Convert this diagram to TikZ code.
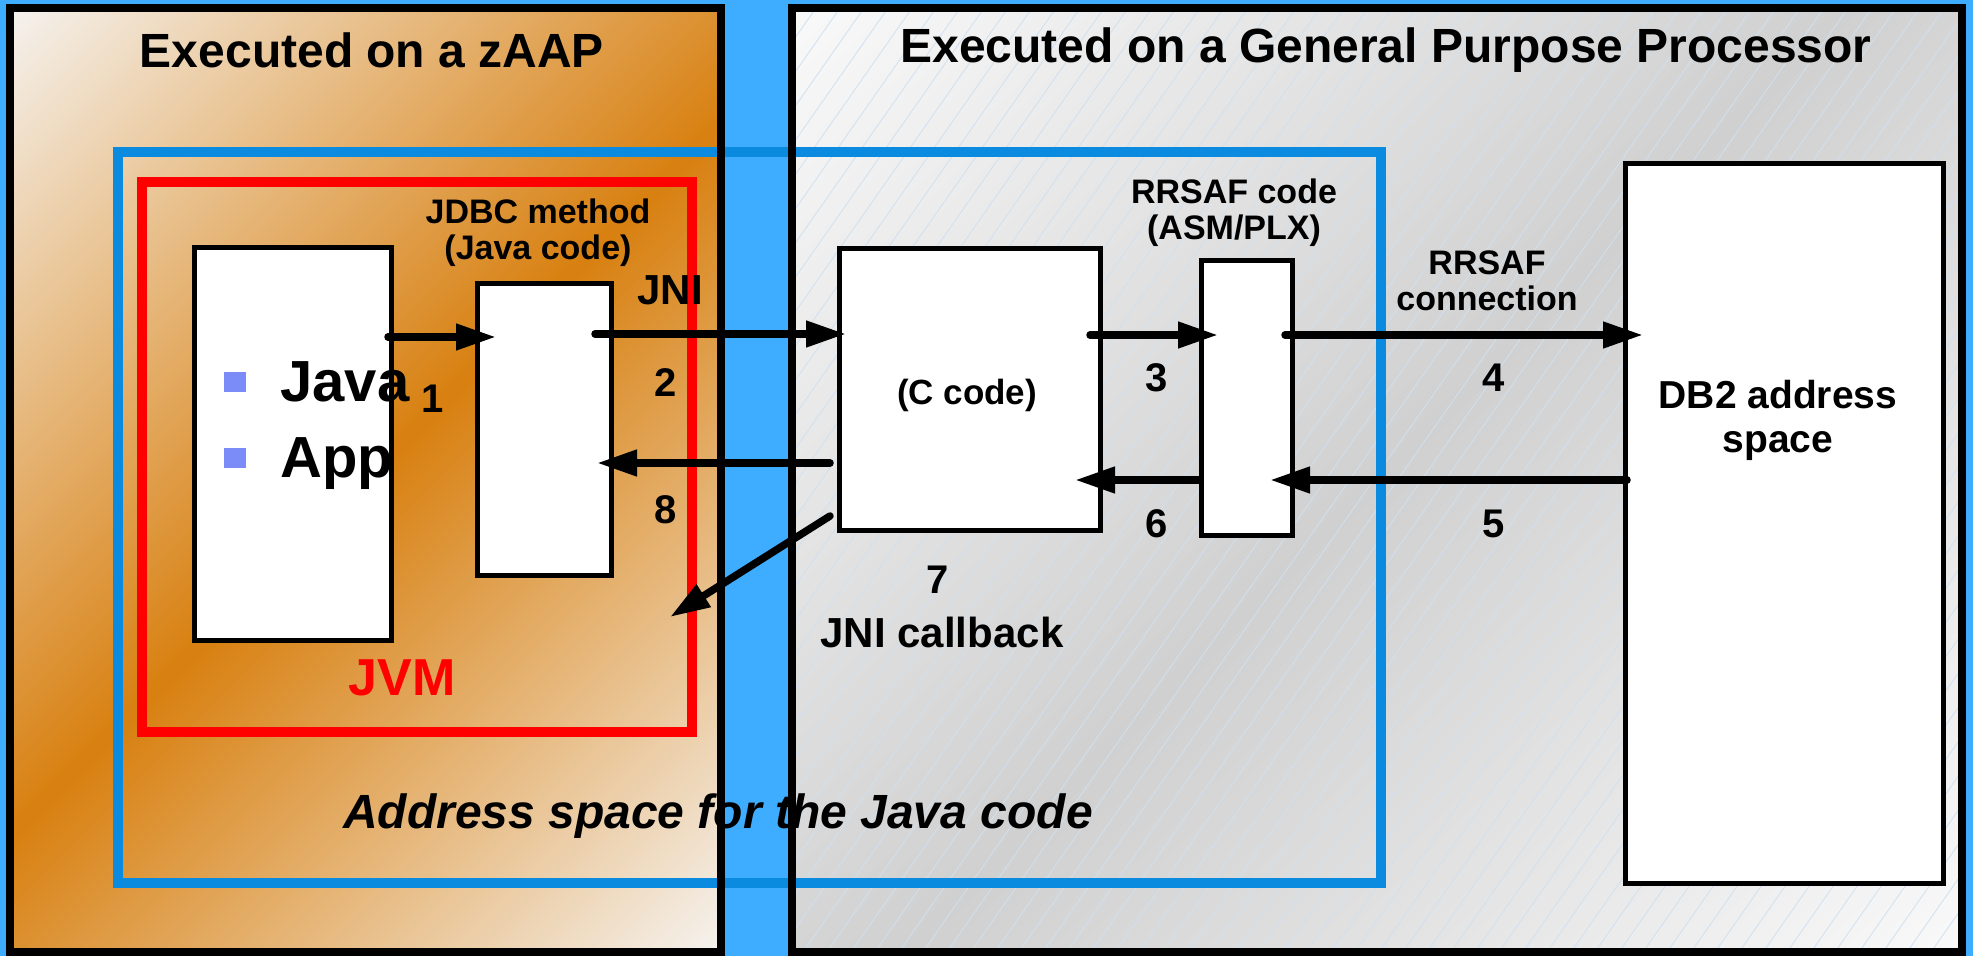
\documentclass[tikz,border=0pt]{standalone}
\usepackage{fontspec}
\setmainfont{Liberation Sans}
\usetikzlibrary{arrows.meta}
\definecolor{bgblue}{RGB}{62,173,255}
\definecolor{asblue}{RGB}{10,139,224}
\definecolor{orng}{RGB}{216,128,16}
\definecolor{cream}{RGB}{245,242,238}
\definecolor{lgray}{RGB}{249,249,249}
\definecolor{mgray}{RGB}{208,208,208}
\definecolor{hatchc}{RGB}{206,225,242}
\definecolor{bulletc}{RGB}{123,139,247}
\begin{document}
\begin{tikzpicture}[x=0.5pt,y=-0.5pt,
  panel/.style={inner sep=0pt,outer sep=0pt},
  panelborder/.style={draw=black,line width=3.8pt},
  wbox/.style={draw=black,fill=white,line width=2.5pt,inner sep=0pt,outer sep=0pt},
  frame/.style={inner sep=0pt,outer sep=0pt,line width=5pt},
  title/.style={font=\bfseries\fontsize{24}{28}\selectfont,anchor=base,inner sep=0pt},
  lbl/.style={font=\bfseries\fontsize{17}{18}\selectfont,align=center,anchor=base,inner sep=0pt},
  big/.style={font=\bfseries\fontsize{21}{24}\selectfont,align=center,anchor=base,inner sep=0pt},
  num/.style={font=\bfseries\fontsize{20}{22}\selectfont,anchor=base,inner sep=0pt},
  bul/.style={fill=bulletc,minimum width=11pt,minimum height=10pt,inner sep=0pt},
  arr/.style={line width=3.75pt,line cap=round,-{Triangle[length=20pt,width=12.5pt]}}]
\useasboundingbox (0,0) rectangle (1973,956);
\fill[bgblue] (0,0) rectangle (1973,956);
% panels
\node[panel,minimum width=355.5pt,minimum height=472pt] (zaap) at (365.5,480) {};
\node[panel,minimum width=585pt,minimum height=472pt] (gpp) at (1377,480) {};
\begin{scope}
  \clip (zaap.south west) rectangle (zaap.north east);
  \shade[top color=cream,bottom color=cream,middle color=orng,shading angle=45]
    (-219.5,-105) rectangle (950.5,1065);
\end{scope}
\begin{scope}
  \clip (gpp.south west) rectangle (gpp.north east);
  \shade[top color=lgray,bottom color=lgray,middle color=mgray,shading angle=45]
    (630,-267) rectangle (2124,1227);
  \foreach \i [evaluate=\i as \x using 131+\i*24] in {0,...,80}
    \draw[hatchc,line width=0.4pt] (\x,952) -- ++(661,-944);
\end{scope}
% address space and JVM frames
\node[frame,draw=asblue,minimum width=631.5pt,minimum height=365.5pt] (as) at (749.5,517.5) {};
\node[frame,draw=red,minimum width=275pt,minimum height=275pt] (jvm) at (417,457) {};
\draw[panelborder] (zaap.south west) rectangle (zaap.north east);
\draw[panelborder] (gpp.south west) rectangle (gpp.north east);
% titles
\node[title] (t1) at (372,68) {Executed on a zAAP};
\node[title] (t2) at (1386,63) {Executed on a General Purpose Processor};
% white boxes
\node[wbox,minimum width=98.5pt,minimum height=196pt] (java) at (292.5,444) {};
\node[wbox,minimum width=67pt,minimum height=145.5pt] (jdbc) at (544,429.5) {};
\node[wbox,minimum width=130.5pt,minimum height=140.5pt] (ccode) at (969.5,389.5) {};
\node[wbox,minimum width=45.5pt,minimum height=137pt] (rrsaf) at (1246.5,398) {};
\node[wbox,minimum width=159pt,minimum height=359.5pt] (db2) at (1784,523.5) {};
% texts
\node[bul] (b1) at (235,382) {};
\node[bul] (b2) at (235,458) {};
\node[font=\bfseries\fontsize{29}{30}\selectfont,anchor=base west,inner sep=0pt] (javat) at (280,402) {Java};
\node[font=\bfseries\fontsize{29}{30}\selectfont,anchor=base west,inner sep=0pt] (appt) at (280,478) {App};
\node[lbl] (jdbct) at (538,260) {JDBC method\\(Java code)};
\node[big] (jni) at (670,305) {JNI};
\node[lbl,font=\bfseries\fontsize{17.5}{18}\selectfont] (ccodet) at (967,405) {(C code)};
\node[lbl] (rrsaft) at (1234,240) {RRSAF code\\(ASM/PLX)};
\node[lbl] (conn) at (1487,311) {RRSAF\\connection};
\node[lbl,font=\bfseries\fontsize{19.5}{22}\selectfont] (db2t) at (1778,452) {DB2 address\\space};
\node[big] (cb) at (942,647) {JNI callback};
\node[font=\bfseries\fontsize{26}{28}\selectfont,text=red,anchor=base,inner sep=0pt] (jvmt) at (402,695) {JVM};
\node[font=\bfseries\itshape\fontsize{24}{28}\selectfont,anchor=base,inner sep=0pt] (ast) at (718,828) {Address space for the Java code};
\node[num] (n1) at (433,413) {1};
\node[num] (n2) at (666,397) {2};
\node[num] (n3) at (1157,392) {3};
\node[num] (n4) at (1494,392) {4};
\node[num] (n5) at (1494,537) {5};
\node[num] (n6) at (1157,537) {6};
\node[num] (n7) at (938,593) {7};
\node[num] (n8) at (666,523) {8};
% arrow ends
\coordinate (a1s) at (388,337); \coordinate (a1e) at (496,337);
\coordinate (a2s) at (595,334); \coordinate (a2e) at (846,334);
\coordinate (a3s) at (1090,335); \coordinate (a3e) at (1218,335);
\coordinate (a4s) at (1285,335); \coordinate (a4e) at (1643,335);
\coordinate (a5s) at (1627,480); \coordinate (a5e) at (1270,480);
\coordinate (a6s) at (1200,480); \coordinate (a6e) at (1075,480);
\coordinate (a7s) at (830,516); \coordinate (a7e) at (670,617);
\coordinate (a8s) at (830,463); \coordinate (a8e) at (597,463);
\draw[arr] (a1s) -- (a1e);
\draw[arr] (a2s) -- (a2e);
\draw[arr] (a3s) -- (a3e);
\draw[arr] (a4s) -- (a4e);
\draw[arr] (a5s) -- (a5e);
\draw[arr] (a6s) -- (a6e);
\draw[arr] (a7s) -- (a7e);
\draw[arr] (a8s) -- (a8e);
\end{tikzpicture}
\end{document}
